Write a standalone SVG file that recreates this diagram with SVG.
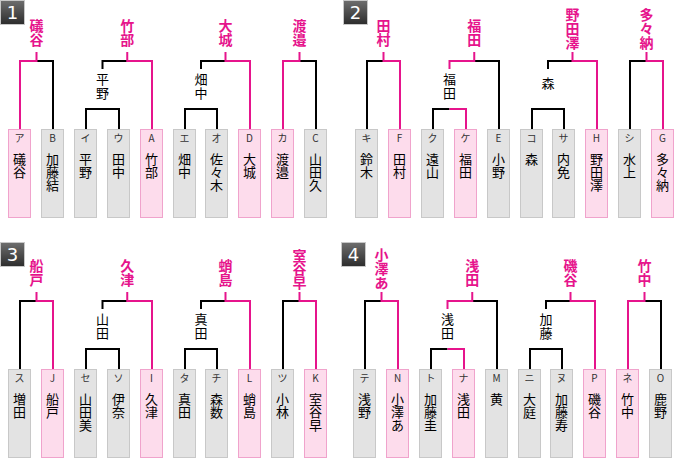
<svg xmlns="http://www.w3.org/2000/svg" width="681" height="459" viewBox="0 0 681 459">
<defs>
<linearGradient id="bgrad" x1="0" y1="0" x2="0" y2="1">
<stop offset="0" stop-color="#6e6e6e"/>
<stop offset="1" stop-color="#2c2c2c"/>
</linearGradient>
<style>
text{font-family:"Noto Sans CJK JP","Noto Sans",sans-serif;text-anchor:middle}
.bg{fill:#e3e3e3;stroke:#c8c8c8;stroke-width:1}
.bp{fill:#fddcec;stroke:#f0a3cc;stroke-width:1}
.code{font-size:10px;fill:#333}
.nm{font-size:13px;fill:#000}
.mid{font-size:13px;fill:#000}
.win{font-size:14px;font-weight:bold;fill:#e6148c}
.lk{stroke:#000;stroke-width:2;fill:none}
.lm{stroke:#e6148c;stroke-width:2;fill:none}
.badge rect{fill:url(#bgrad);stroke:#c8c8c8;stroke-width:1}
.badge text{font-family:"DejaVu Sans",sans-serif;font-size:18px;fill:#fff}
</style>
</defs>
<rect width="681" height="459" fill="#fff"/>

<g id="badges">
<g id="badge-1" class="badge"><rect x="0.5" y="0.5" width="24" height="24"/><text x="12.5" y="19">1</text></g>
<g id="badge-2" class="badge"><rect x="343.5" y="0.5" width="24" height="24"/><text x="355.5" y="19">2</text></g>
<g id="badge-3" class="badge"><rect x="0.5" y="242.5" width="24" height="24"/><text x="12.5" y="261">3</text></g>
<g id="badge-4" class="badge"><rect x="341.5" y="242.5" width="24" height="24"/><text x="353.5" y="261">4</text></g>
</g>

<g id="connectors">
<path class="lk" d="M53 129V61H36.5"/>
<path class="lm" d="M20 129V61H36.5M36.5 62V52"/>
<path class="lk" d="M86 129V109H119V129M102.5 69V61H127.25"/>
<path class="lm" d="M152 129V61H127.25M127.25 62V52"/>
<path class="lk" d="M185 129V109H217V129M201 69V61H225.5"/>
<path class="lm" d="M250 129V61H225.5M225.5 62V52"/>
<path class="lk" d="M316 129V61H299.5"/>
<path class="lm" d="M283 129V61H299.5M299.5 62V52"/>
<path class="lk" d="M367 129V61H383.5"/>
<path class="lm" d="M400 129V61H383.5M383.5 62V52"/>
<path class="lk" d="M433 129V109H449.5M499 129V61H474.25"/>
<path class="lm" d="M466 129V109H449.5M449.5 69V61H474.25M474.25 62V52"/>
<path class="lk" d="M532 129V109H564V129M548 69V61H572.5"/>
<path class="lm" d="M597 129V61H572.5M572.5 62V52"/>
<path class="lk" d="M630 129V61H646.5"/>
<path class="lm" d="M663 129V61H646.5M646.5 62V52"/>
<path class="lk" d="M20 369V301H36.5"/>
<path class="lm" d="M53 369V301H36.5M36.5 302V292"/>
<path class="lk" d="M86 369V349H119V369M102.5 309V301H127.25"/>
<path class="lm" d="M152 369V301H127.25M127.25 302V292"/>
<path class="lk" d="M185 369V349H217V369M201 309V301H225.5"/>
<path class="lm" d="M250 369V301H225.5M225.5 302V292"/>
<path class="lk" d="M283 369V301H299.5"/>
<path class="lm" d="M316 369V301H299.5M299.5 302V292"/>
<path class="lk" d="M365 369V301H381.5"/>
<path class="lm" d="M398 369V301H381.5M381.5 302V292"/>
<path class="lk" d="M431 369V349H447.5M497 369V301H472.25"/>
<path class="lm" d="M464 369V349H447.5M447.5 309V301H472.25M472.25 302V292"/>
<path class="lk" d="M530 369V349H562V369M546 309V301H570.5"/>
<path class="lm" d="M595 369V301H570.5M570.5 302V292"/>
<path class="lk" d="M661 369V301H644.5"/>
<path class="lm" d="M628 369V301H644.5M644.5 302V292"/>
</g>

<g id="winners">
<g id="w1a"><text class="win"><tspan x="36.5" y="31">礒</tspan><tspan x="36.5" y="44.5">谷</tspan></text></g>
<g id="w1b"><text class="win"><tspan x="127.25" y="31">竹</tspan><tspan x="127.25" y="44.5">部</tspan></text></g>
<g id="w1c"><text class="win"><tspan x="225.5" y="31">大</tspan><tspan x="225.5" y="44.5">城</tspan></text></g>
<g id="w1d"><text class="win"><tspan x="299.5" y="31">渡</tspan><tspan x="299.5" y="44.5">邉</tspan></text></g>
<g id="w2a"><text class="win"><tspan x="383.5" y="31">田</tspan><tspan x="383.5" y="44.5">村</tspan></text></g>
<g id="w2b"><text class="win"><tspan x="474.25" y="31">福</tspan><tspan x="474.25" y="44.5">田</tspan></text></g>
<g id="w2c"><text class="win"><tspan x="572.5" y="19.5">野</tspan><tspan x="572.5" y="33.5">田</tspan><tspan x="572.5" y="47.5">澤</tspan></text></g>
<g id="w2d"><text class="win"><tspan x="646.5" y="19.5">多</tspan><tspan x="646.5" y="33.5">々</tspan><tspan x="646.5" y="47.5">納</tspan></text></g>
<g id="w3a"><text class="win"><tspan x="36.5" y="271">船</tspan><tspan x="36.5" y="284.5">戸</tspan></text></g>
<g id="w3b"><text class="win"><tspan x="127.25" y="271">久</tspan><tspan x="127.25" y="284.5">津</tspan></text></g>
<g id="w3c"><text class="win"><tspan x="225.5" y="271">蛸</tspan><tspan x="225.5" y="284.5">島</tspan></text></g>
<g id="w3d"><text class="win"><tspan x="299.5" y="260.5">室</tspan><tspan x="299.5" y="274">谷</tspan><tspan x="299.5" y="287.5">早</tspan></text></g>
<g id="w4a"><text class="win"><tspan x="381.5" y="259.5">小</tspan><tspan x="381.5" y="273.5">澤</tspan><tspan x="381.5" y="287.5">あ</tspan></text></g>
<g id="w4b"><text class="win"><tspan x="472.25" y="271">浅</tspan><tspan x="472.25" y="284.5">田</tspan></text></g>
<g id="w4c"><text class="win"><tspan x="570.5" y="271">磯</tspan><tspan x="570.5" y="284.5">谷</tspan></text></g>
<g id="w4d"><text class="win"><tspan x="644.5" y="271">竹</tspan><tspan x="644.5" y="284.5">中</tspan></text></g>
</g>

<g id="semis">
<g id="m1a"><text class="mid"><tspan x="102.5" y="84">平</tspan><tspan x="102.5" y="97.5">野</tspan></text></g>
<g id="m1b"><text class="mid"><tspan x="201" y="84">畑</tspan><tspan x="201" y="97.5">中</tspan></text></g>
<g id="m2a"><text class="mid"><tspan x="449.5" y="84">福</tspan><tspan x="449.5" y="97.5">田</tspan></text></g>
<g id="m2b"><text class="mid"><tspan x="548" y="88">森</tspan></text></g>
<g id="m3a"><text class="mid"><tspan x="102.5" y="324">山</tspan><tspan x="102.5" y="337.5">田</tspan></text></g>
<g id="m3b"><text class="mid"><tspan x="201" y="324">真</tspan><tspan x="201" y="337.5">田</tspan></text></g>
<g id="m4a"><text class="mid"><tspan x="447.5" y="324">浅</tspan><tspan x="447.5" y="337.5">田</tspan></text></g>
<g id="m4b"><text class="mid"><tspan x="546" y="324">加</tspan><tspan x="546" y="337.5">藤</tspan></text></g>
</g>

<g id="players">
<g id="p1-a"><rect class="bp" x="8.5" y="129.5" width="22" height="88"/><text class="code" x="19.5" y="142">ア</text><text class="nm"><tspan x="19.5" y="164">礒</tspan><tspan x="19.5" y="177">谷</tspan></text></g>
<g id="p1-b"><rect class="bg" x="41.5" y="129.5" width="22" height="88"/><text class="code" x="52.5" y="142">B</text><text class="nm"><tspan x="52.5" y="164">加</tspan><tspan x="52.5" y="177">藤</tspan><tspan x="52.5" y="190">結</tspan></text></g>
<g id="p1-c"><rect class="bg" x="74.5" y="129.5" width="22" height="88"/><text class="code" x="85.5" y="142">イ</text><text class="nm"><tspan x="85.5" y="164">平</tspan><tspan x="85.5" y="177">野</tspan></text></g>
<g id="p1-d"><rect class="bg" x="107.5" y="129.5" width="22" height="88"/><text class="code" x="118.5" y="142">ウ</text><text class="nm"><tspan x="118.5" y="164">田</tspan><tspan x="118.5" y="177">中</tspan></text></g>
<g id="p1-e"><rect class="bp" x="140.5" y="129.5" width="22" height="88"/><text class="code" x="151.5" y="142">A</text><text class="nm"><tspan x="151.5" y="164">竹</tspan><tspan x="151.5" y="177">部</tspan></text></g>
<g id="p1-f"><rect class="bg" x="173.5" y="129.5" width="22" height="88"/><text class="code" x="184.5" y="142">エ</text><text class="nm"><tspan x="184.5" y="164">畑</tspan><tspan x="184.5" y="177">中</tspan></text></g>
<g id="p1-g"><rect class="bg" x="205.5" y="129.5" width="22" height="88"/><text class="code" x="216.5" y="142">オ</text><text class="nm"><tspan x="216.5" y="164">佐</tspan><tspan x="216.5" y="177">々</tspan><tspan x="216.5" y="190">木</tspan></text></g>
<g id="p1-h"><rect class="bp" x="238.5" y="129.5" width="22" height="88"/><text class="code" x="249.5" y="142">D</text><text class="nm"><tspan x="249.5" y="164">大</tspan><tspan x="249.5" y="177">城</tspan></text></g>
<g id="p1-i"><rect class="bp" x="271.5" y="129.5" width="22" height="88"/><text class="code" x="282.5" y="142">カ</text><text class="nm"><tspan x="282.5" y="164">渡</tspan><tspan x="282.5" y="177">邉</tspan></text></g>
<g id="p1-j"><rect class="bg" x="304.5" y="129.5" width="22" height="88"/><text class="code" x="315.5" y="142">C</text><text class="nm"><tspan x="315.5" y="164">山</tspan><tspan x="315.5" y="177">田</tspan><tspan x="315.5" y="190">久</tspan></text></g>
<g id="p2-a"><rect class="bg" x="355.5" y="129.5" width="22" height="88"/><text class="code" x="366.5" y="142">キ</text><text class="nm"><tspan x="366.5" y="164">鈴</tspan><tspan x="366.5" y="177">木</tspan></text></g>
<g id="p2-b"><rect class="bp" x="388.5" y="129.5" width="22" height="88"/><text class="code" x="399.5" y="142">F</text><text class="nm"><tspan x="399.5" y="164">田</tspan><tspan x="399.5" y="177">村</tspan></text></g>
<g id="p2-c"><rect class="bg" x="421.5" y="129.5" width="22" height="88"/><text class="code" x="432.5" y="142">ク</text><text class="nm"><tspan x="432.5" y="164">遠</tspan><tspan x="432.5" y="177">山</tspan></text></g>
<g id="p2-d"><rect class="bp" x="454.5" y="129.5" width="22" height="88"/><text class="code" x="465.5" y="142">ケ</text><text class="nm"><tspan x="465.5" y="164">福</tspan><tspan x="465.5" y="177">田</tspan></text></g>
<g id="p2-e"><rect class="bg" x="487.5" y="129.5" width="22" height="88"/><text class="code" x="498.5" y="142">E</text><text class="nm"><tspan x="498.5" y="164">小</tspan><tspan x="498.5" y="177">野</tspan></text></g>
<g id="p2-f"><rect class="bg" x="520.5" y="129.5" width="22" height="88"/><text class="code" x="531.5" y="142">コ</text><text class="nm"><tspan x="531.5" y="164">森</tspan></text></g>
<g id="p2-g"><rect class="bg" x="552.5" y="129.5" width="22" height="88"/><text class="code" x="563.5" y="142">サ</text><text class="nm"><tspan x="563.5" y="164">内</tspan><tspan x="563.5" y="177">免</tspan></text></g>
<g id="p2-h"><rect class="bp" x="585.5" y="129.5" width="22" height="88"/><text class="code" x="596.5" y="142">H</text><text class="nm"><tspan x="596.5" y="164">野</tspan><tspan x="596.5" y="177">田</tspan><tspan x="596.5" y="190">澤</tspan></text></g>
<g id="p2-i"><rect class="bg" x="618.5" y="129.5" width="22" height="88"/><text class="code" x="629.5" y="142">シ</text><text class="nm"><tspan x="629.5" y="164">水</tspan><tspan x="629.5" y="177">上</tspan></text></g>
<g id="p2-j"><rect class="bp" x="651.5" y="129.5" width="22" height="88"/><text class="code" x="662.5" y="142">G</text><text class="nm"><tspan x="662.5" y="164">多</tspan><tspan x="662.5" y="177">々</tspan><tspan x="662.5" y="190">納</tspan></text></g>
<g id="p3-a"><rect class="bg" x="8.5" y="369.5" width="22" height="88"/><text class="code" x="19.5" y="382">ス</text><text class="nm"><tspan x="19.5" y="404">増</tspan><tspan x="19.5" y="417">田</tspan></text></g>
<g id="p3-b"><rect class="bp" x="41.5" y="369.5" width="22" height="88"/><text class="code" x="52.5" y="382">J</text><text class="nm"><tspan x="52.5" y="404">船</tspan><tspan x="52.5" y="417">戸</tspan></text></g>
<g id="p3-c"><rect class="bg" x="74.5" y="369.5" width="22" height="88"/><text class="code" x="85.5" y="382">セ</text><text class="nm"><tspan x="85.5" y="404">山</tspan><tspan x="85.5" y="417">田</tspan><tspan x="85.5" y="430">美</tspan></text></g>
<g id="p3-d"><rect class="bg" x="107.5" y="369.5" width="22" height="88"/><text class="code" x="118.5" y="382">ソ</text><text class="nm"><tspan x="118.5" y="404">伊</tspan><tspan x="118.5" y="417">奈</tspan></text></g>
<g id="p3-e"><rect class="bp" x="140.5" y="369.5" width="22" height="88"/><text class="code" x="151.5" y="382">I</text><text class="nm"><tspan x="151.5" y="404">久</tspan><tspan x="151.5" y="417">津</tspan></text></g>
<g id="p3-f"><rect class="bg" x="173.5" y="369.5" width="22" height="88"/><text class="code" x="184.5" y="382">タ</text><text class="nm"><tspan x="184.5" y="404">真</tspan><tspan x="184.5" y="417">田</tspan></text></g>
<g id="p3-g"><rect class="bg" x="205.5" y="369.5" width="22" height="88"/><text class="code" x="216.5" y="382">チ</text><text class="nm"><tspan x="216.5" y="404">森</tspan><tspan x="216.5" y="417">数</tspan></text></g>
<g id="p3-h"><rect class="bp" x="238.5" y="369.5" width="22" height="88"/><text class="code" x="249.5" y="382">L</text><text class="nm"><tspan x="249.5" y="404">蛸</tspan><tspan x="249.5" y="417">島</tspan></text></g>
<g id="p3-i"><rect class="bg" x="271.5" y="369.5" width="22" height="88"/><text class="code" x="282.5" y="382">ツ</text><text class="nm"><tspan x="282.5" y="404">小</tspan><tspan x="282.5" y="417">林</tspan></text></g>
<g id="p3-j"><rect class="bp" x="304.5" y="369.5" width="22" height="88"/><text class="code" x="315.5" y="382">K</text><text class="nm"><tspan x="315.5" y="404">室</tspan><tspan x="315.5" y="417">谷</tspan><tspan x="315.5" y="430">早</tspan></text></g>
<g id="p4-a"><rect class="bg" x="353.5" y="369.5" width="22" height="88"/><text class="code" x="364.5" y="382">テ</text><text class="nm"><tspan x="364.5" y="404">浅</tspan><tspan x="364.5" y="417">野</tspan></text></g>
<g id="p4-b"><rect class="bp" x="386.5" y="369.5" width="22" height="88"/><text class="code" x="397.5" y="382">N</text><text class="nm"><tspan x="397.5" y="404">小</tspan><tspan x="397.5" y="417">澤</tspan><tspan x="397.5" y="430">あ</tspan></text></g>
<g id="p4-c"><rect class="bg" x="419.5" y="369.5" width="22" height="88"/><text class="code" x="430.5" y="382">ト</text><text class="nm"><tspan x="430.5" y="404">加</tspan><tspan x="430.5" y="417">藤</tspan><tspan x="430.5" y="430">圭</tspan></text></g>
<g id="p4-d"><rect class="bp" x="452.5" y="369.5" width="22" height="88"/><text class="code" x="463.5" y="382">ナ</text><text class="nm"><tspan x="463.5" y="404">浅</tspan><tspan x="463.5" y="417">田</tspan></text></g>
<g id="p4-e"><rect class="bg" x="485.5" y="369.5" width="22" height="88"/><text class="code" x="496.5" y="382">M</text><text class="nm"><tspan x="496.5" y="404">黄</tspan></text></g>
<g id="p4-f"><rect class="bg" x="518.5" y="369.5" width="22" height="88"/><text class="code" x="529.5" y="382">ニ</text><text class="nm"><tspan x="529.5" y="404">大</tspan><tspan x="529.5" y="417">庭</tspan></text></g>
<g id="p4-g"><rect class="bg" x="550.5" y="369.5" width="22" height="88"/><text class="code" x="561.5" y="382">ヌ</text><text class="nm"><tspan x="561.5" y="404">加</tspan><tspan x="561.5" y="417">藤</tspan><tspan x="561.5" y="430">寿</tspan></text></g>
<g id="p4-h"><rect class="bp" x="583.5" y="369.5" width="22" height="88"/><text class="code" x="594.5" y="382">P</text><text class="nm"><tspan x="594.5" y="404">磯</tspan><tspan x="594.5" y="417">谷</tspan></text></g>
<g id="p4-i"><rect class="bp" x="616.5" y="369.5" width="22" height="88"/><text class="code" x="627.5" y="382">ネ</text><text class="nm"><tspan x="627.5" y="404">竹</tspan><tspan x="627.5" y="417">中</tspan></text></g>
<g id="p4-j"><rect class="bg" x="649.5" y="369.5" width="22" height="88"/><text class="code" x="660.5" y="382">O</text><text class="nm"><tspan x="660.5" y="404">鹿</tspan><tspan x="660.5" y="417">野</tspan></text></g>
</g>
</svg>
